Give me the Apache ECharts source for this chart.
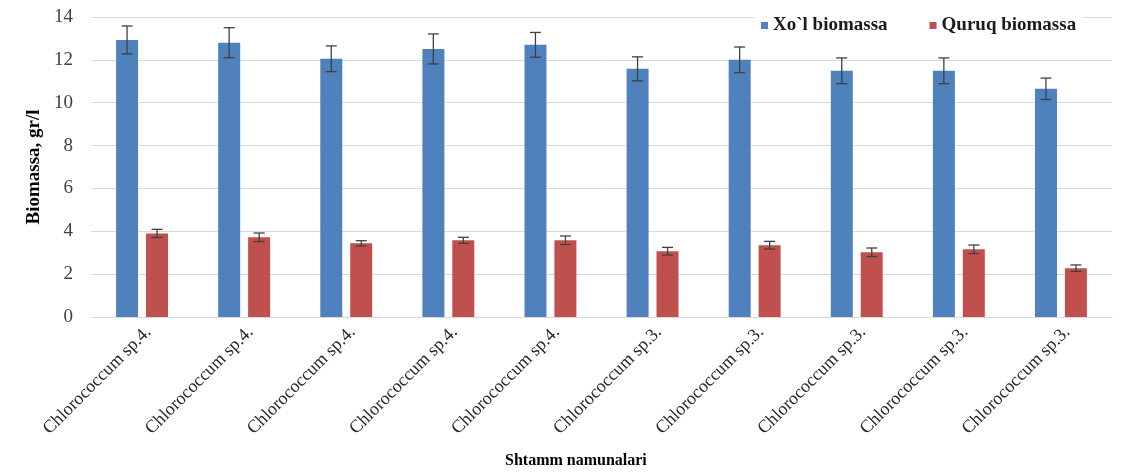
<!DOCTYPE html>
<html>
<head>
<meta charset="utf-8">
<script src="https://cdn.jsdelivr.net/npm/echarts@6/dist/echarts.min.js"></script>
<style>
  html, body { margin: 0; padding: 0; background: #fff; }
  #chart { width: 1136px; height: 475px; }
</style>
</head>
<body>
<div id="chart"></div>
<script>
const categories = [
  "Chlorococcum sp.4.", "Chlorococcum sp.4.", "Chlorococcum sp.4.", "Chlorococcum sp.4.", "Chlorococcum sp.4.",
  "Chlorococcum sp.3.", "Chlorococcum sp.3.", "Chlorococcum sp.3.", "Chlorococcum sp.3.", "Chlorococcum sp.3."
];
const wetValues = [12.93, 12.8, 12.05, 12.51, 12.7, 11.58, 12.0, 11.49, 11.49, 10.65];
const wetErrors = [0.65, 0.7, 0.6, 0.7, 0.58, 0.56, 0.6, 0.6, 0.6, 0.5];
const dryValues = [3.9, 3.72, 3.44, 3.58, 3.58, 3.07, 3.35, 3.02, 3.16, 2.28];
const dryErrors = [0.19, 0.2, 0.12, 0.14, 0.2, 0.18, 0.18, 0.2, 0.2, 0.15];
const yTicks = [0, 2, 4, 6, 8, 10, 12, 14];

const serif = "'Liberation Serif', 'Times New Roman', serif";
const barW = 22;
const gap = 8;

const chart = echarts.init(document.getElementById("chart"));

// error bar drawn at bar center: offset is the bar's shift from category center
const errorSeries = (values, errors, offset) => ({
  type: "custom",
  data: values.map((v, i) => [i, v, errors[i]]),
  z: 10,
  silent: true,
  renderItem: (params, api) => {
    const i = api.value(0);
    const top = api.coord([i, api.value(1) + api.value(2)]);
    const bot = api.coord([i, api.value(1) - api.value(2)]);
    const x = top[0] + offset;
    const style = { stroke: "#404040", lineWidth: 1.3 };
    return {
      type: "group",
      children: [
        { type: "line", shape: { x1: x, y1: top[1], x2: x, y2: bot[1] }, style },
        { type: "line", shape: { x1: x - 5.5, y1: top[1], x2: x + 5.5, y2: top[1] }, style },
        { type: "line", shape: { x1: x - 5.5, y1: bot[1], x2: x + 5.5, y2: bot[1] }, style }
      ]
    };
  }
});

chart.setOption({
  animation: false,
  grid: { left: 91, right: 24, top: 17, bottom: 158 },
  legend: {
    data: ["Xo`l biomassa", "Quruq biomassa"],
    left: 755,
    top: 13,
    icon: "rect",
    itemWidth: 7,
    itemHeight: 7,
    itemGap: 42,
    backgroundColor: "#fff",
    padding: [3, 6],
    textStyle: { fontFamily: serif, fontWeight: "bold", fontSize: 19, color: "#1a1a1a" }
  },
  xAxis: {
    type: "category",
    data: categories,
    axisLine: { lineStyle: { color: "#d9d9d9" } },
    axisTick: { show: false },
    axisLabel: {
      interval: 0,
      rotate: 45,
      margin: 6,
      verticalAlign: "top",
      fontFamily: serif,
      fontSize: 18,
      color: "#262626"
    }
  },
  yAxis: {
    type: "value",
    min: 0,
    max: 14,
    interval: 2,
    name: "Biomassa, gr/l",
    nameLocation: "middle",
    nameGap: 41,
    nameTextStyle: { fontFamily: serif, fontWeight: "bold", fontSize: 19, color: "#000" },
    axisLabel: {
      margin: 18,
      fontFamily: serif,
      fontSize: 19,
      color: "#404040",
      formatter: (v) => (yTicks.includes(v) ? String(v) : "")
    },
    splitLine: { lineStyle: { color: "#d9d9d9" } }
  },
  graphic: [
    {
      type: "text",
      left: 505,
      top: 453,
      style: { text: "Shtamm namunalari", fontFamily: serif, fontWeight: "bold", fontSize: 16, fill: "#000" }
    }
  ],
  series: [
    {
      name: "Xo`l biomassa",
      type: "bar",
      data: wetValues,
      barWidth: barW,
      barGap: (gap / barW * 100).toFixed(0) + "%",
      itemStyle: { color: "#4f81bd" }
    },
    {
      name: "Quruq biomassa",
      type: "bar",
      data: dryValues,
      barWidth: barW,
      itemStyle: { color: "#c0504d" }
    },
    errorSeries(wetValues, wetErrors, -(barW + gap) / 2),
    errorSeries(dryValues, dryErrors, (barW + gap) / 2)
  ]
});
</script>
</body>
</html>
